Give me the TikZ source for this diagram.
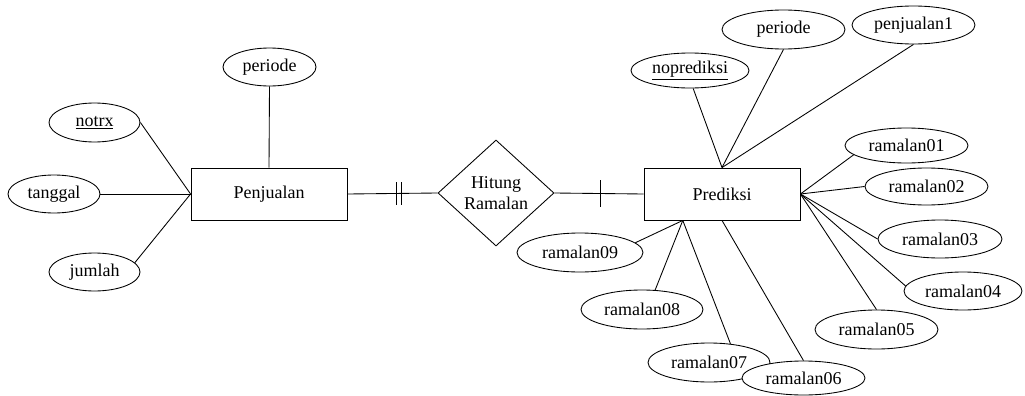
\documentclass[tikz,border=0pt]{standalone}
\usepackage{fontspec}
\setmainfont{Liberation Serif}
\usetikzlibrary{shapes.geometric,calc}
\tikzset{
  ent/.style={draw, rectangle, line width=0.65pt, minimum width=156*0.75pt, minimum height=52*0.75pt, inner sep=0pt, fill=white},
  att/.style 2 args={draw, ellipse, line width=0.65pt, minimum width=#1*0.75pt, minimum height=#2*0.75pt, inner sep=0pt, fill=white},
  relbox/.style={draw, diamond, line width=0.65pt, minimum width=116*0.75pt, minimum height=106*0.75pt, inner sep=0pt, align=center, fill=white},
  conn/.style={line width=0.65pt},
}
\begin{document}
\begin{tikzpicture}[x=0.75pt,y=-0.75pt, font=\fontsize{13.5}{15.5}\selectfont]
\useasboundingbox (0,0) rectangle (1025,396);
% entities and relationship
\node[ent] (pen) at (269,194) {Penjualan};
\node[ent] (pred) at (722,194) {Prediksi};
\node[relbox] (rel) at (496,193) {Hitung\\Ramalan};
% Penjualan attributes
\node[att={93}{38}] (per1) at (269.5,67) {periode};
\node[att={91}{39}] (notrx) at (94.5,122.5) {\underline{notrx}};
\node[att={92}{38}] (tgl) at (54,194) {tanggal};
\node[att={91}{38}] (jml) at (94.5,272) {jumlah};
% Prediksi attributes
\node[att={118}{35}] (nop) at (690,70.5) {\underline{noprediksi}};
\node[att={123}{39}] (per2) at (783.5,29.5) {periode};
\node[att={123}{38}] (pj1) at (913.5,25) {penjualan1};
\node[att={123}{35}] (r01) at (906.5,145.5) {ramalan01};
\node[att={123}{37}] (r02) at (926.5,186.5) {ramalan02};
\node[att={124}{38}] (r03) at (940,239) {ramalan03};
\node[att={118}{38}] (r04) at (963,291) {ramalan04};
\node[att={123}{39}] (r05) at (876.5,329.5) {ramalan05};
\node[att={122}{39}] (r07) at (709,362.5) {ramalan07};
\node[att={123}{34}] (r06) at (803.5,378) {ramalan06};
\node[att={122}{39}] (r08) at (642,309.5) {ramalan08};
\node[att={126}{39}] (r09) at (580,252.5) {ramalan09};
% convergence point on bottom of Prediksi
\coordinate (pb) at ($(pred.south west)!0.25!(pred.south east)$);
% connectors Penjualan
\draw[conn] (per1.south) -- (pen.north);
\draw[conn] (notrx.east) -- (pen.west);
\draw[conn] (tgl.east) -- (pen.west);
\draw[conn] (jml.13) -- (pen.west);
% relationship connectors with cardinality ticks
\draw[conn] (pen.east) -- coordinate[pos=0.549] (t1) coordinate[pos=0.604] (t2) (rel.west);
\draw[conn] ([yshift=-8.5]t1) -- ([yshift=8.5]t1);
\draw[conn] ([yshift=-8.5]t2) -- ([yshift=8.5]t2);
\draw[conn] (rel.east) -- coordinate[pos=0.511] (t3) (pred.west);
\draw[conn] ([yshift=-10]t3) -- ([yshift=10]t3);
% connectors Prediksi
\draw[conn] (nop.-80) -- (pred.north);
\draw[conn] (per2.south) -- (pred.north);
\draw[conn] (pj1.south) -- (pred.north);
\draw[conn] (r01.190) -- (pred.east);
\draw[conn] (r02.west) -- (pred.east);
\draw[conn] (r03.west) -- (pred.east);
\draw[conn] (r04.175) -- (pred.east);
\draw[conn] (r05.north) -- (pred.east);
\draw[conn] (r06.north) -- (pred.south);
\draw[conn] (r07.41) -- (pb);
\draw[conn] (r08.56) -- (pb);
\draw[conn] (r09.10) -- (pb);
\end{tikzpicture}
\end{document}
